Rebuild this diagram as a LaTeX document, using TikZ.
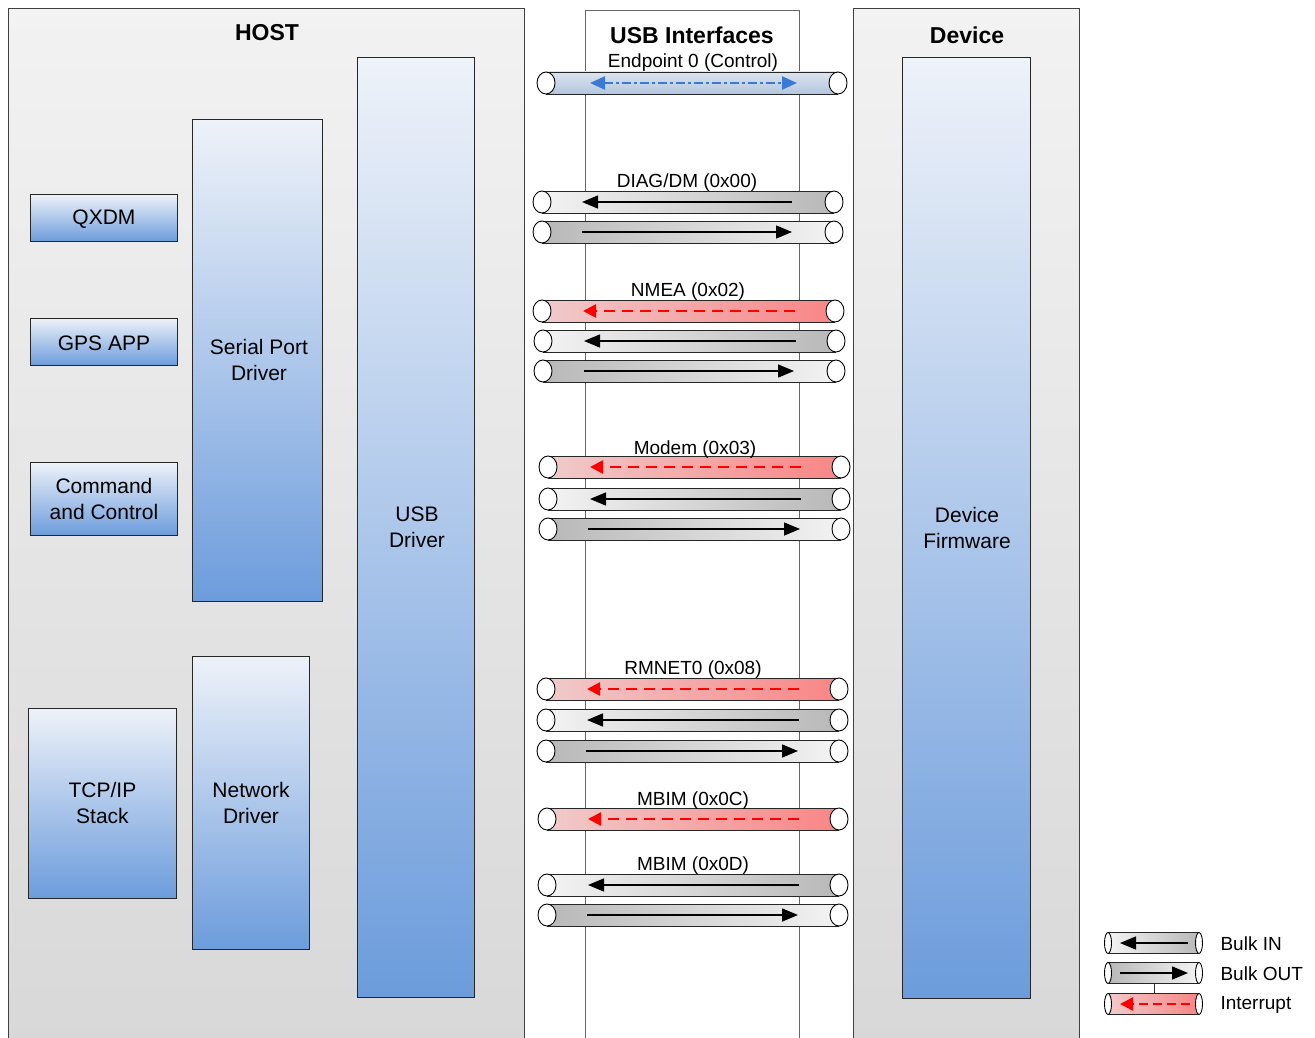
\documentclass[tikz,border=0pt]{standalone}
\usepackage{fontspec}
\setmainfont{Liberation Sans}
\usetikzlibrary{arrows.meta}
\definecolor{boxtop}{HTML}{EEF2F9}
\definecolor{boxbot}{HTML}{6C9CDC}
\definecolor{pantop}{HTML}{F2F2F2}
\definecolor{panbot}{HTML}{D8D8D8}
\definecolor{pipelite}{HTML}{F3F3F3}
\definecolor{pipedark}{HTML}{B8B8B8}
\definecolor{redlite}{HTML}{F0CBCB}
\definecolor{reddark}{HTML}{F98585}
\definecolor{ctltop}{HTML}{DCE4EF}
\definecolor{ctlbot}{HTML}{B3C6DE}
\definecolor{ctlarrow}{HTML}{3A7AD4}
\definecolor{intred}{HTML}{FF0000}

\tikzset{
  panel/.style={draw=black!75, line width=0.9pt, top color=pantop, bottom color=panbot, anchor=north west, inner sep=0pt},
  ifpanel/.style={draw=black!60, line width=0.8pt, fill=white, anchor=north west, inner sep=0pt},
  title/.style={font=\bfseries\fontsize{23}{27}\selectfont},
  hbox/.style={draw=black!85, line width=0.9pt, top color=boxtop, bottom color=boxbot, anchor=north west, inner sep=0pt},
  boxtext/.style={font=\fontsize{21}{26}\selectfont, align=center},
  plabel/.style={font=\fontsize{19}{22}\selectfont},
  inpipe/.style={left color=pipelite, right color=pipedark},
  outpipe/.style={left color=pipedark, right color=pipelite},
  intpipe/.style={left color=redlite, right color=reddark},
  ctlpipe/.style={top color=ctltop, bottom color=ctlbot},
  pipeedge/.style={draw=black!85, line width=0.9pt},
  pipeend/.style={draw=black, line width=0.9pt, fill=white},
  bulkarrow/.style={draw=black, line width=1.5pt, -{Triangle[length=16pt,width=13pt]}},
  intarrow/.style={draw=intred, line width=2.4pt, dash pattern=on 11pt off 7pt, -{Triangle[length=13pt,width=13pt]}},
  ctlarr/.style={draw=ctlarrow, line width=2.4pt, dash pattern=on 9pt off 3pt on 3pt off 3pt,
     {Triangle[length=15pt,width=13pt]}-{Triangle[length=15pt,width=13pt]}},
}

% name, y, xl, xr, fill style, x radius, left offset, right offset, y radius
\newcommand{\usbpipe}[9]{%
  \path[#5] (#3,#2-#9) rectangle (#4,#2+#9);
  \draw[pipeedge] (#3,#2-#9) -- (#4,#2-#9) (#3,#2+#9) -- (#4,#2+#9);
  \draw[pipeend] (#3,#2) ellipse[x radius=#6pt, y radius=#9pt];
  \draw[pipeend] (#4,#2) ellipse[x radius=#6pt, y radius=#9pt];
  \coordinate (#1-l) at (#3+#7,#2);
  \coordinate (#1-r) at (#4-#8,#2);
}

\begin{document}
\begin{tikzpicture}[x=1pt,y=-1pt]
\useasboundingbox (0,0) rectangle (1315,1038);

% panels
\node[panel, minimum width=516pt, minimum height=1040pt] (host) at (8,8) {};
\node[ifpanel, minimum width=214pt, minimum height=1040pt] (usbif) at (585,10) {};
\node[panel, minimum width=226pt, minimum height=1040pt] (device) at (853,8) {};

\node[title] (hosttitle) at (267,33) {HOST};
\node[title] (iftitle) at (692,35) {USB Interfaces};
\node[title] (devtitle) at (967,35) {Device};
\node[plabel] (ep0label) at (693,63) {Endpoint 0 (Control)};

% host boxes
\node[hbox, minimum width=147pt, minimum height=47pt] (qxdm) at (30,194) {};
\node[boxtext] at ([yshift=-1pt]qxdm.center) {QXDM};
\node[hbox, minimum width=147pt, minimum height=47pt] (gps) at (30,318) {};
\node[boxtext] at ([yshift=-1pt]gps.center) {GPS APP};
\node[hbox, minimum width=147pt, minimum height=73pt] (cmd) at (30,462) {};
\node[boxtext] at (cmd.center) {Command\\and Control};
\node[hbox, minimum width=130pt, minimum height=482pt] (serial) at (192,119) {};
\node[boxtext] at (259,360) {Serial Port\\Driver};
\node[hbox, minimum width=148pt, minimum height=190pt] (tcp) at (28,708) {};
\node[boxtext] at (tcp.center) {TCP/IP\\Stack};
\node[hbox, minimum width=117pt, minimum height=293pt] (net) at (192,656) {};
\node[boxtext] at (251,803) {Network\\Driver};
\node[hbox, minimum width=117pt, minimum height=940pt] (usbdrv) at (357,57) {};
\node[boxtext] at (417,527) {USB\\Driver};
\node[hbox, minimum width=128pt, minimum height=941pt] (fw) at (902,57) {};
\node[boxtext] at (967,528) {Device\\Firmware};

% pipes
\usbpipe{ep0}{83}{546}{838}{ctlpipe}{9}{44}{41}{11}
\draw[ctlarr] (ep0-l) -- (ep0-r);

\usbpipe{diagin}{202}{542}{834}{inpipe}{9}{40}{42}{11}
\usbpipe{diagout}{232}{542}{834}{outpipe}{9}{40}{42}{11}
\draw[bulkarrow] (diagin-r) -- (diagin-l);
\draw[bulkarrow] (diagout-l) -- (diagout-r);

\usbpipe{nmeaint}{311}{542}{835}{intpipe}{9}{41}{40}{11}
\usbpipe{nmeain}{341}{543}{836}{inpipe}{9}{41}{40}{11}
\usbpipe{nmeaout}{371}{543}{836}{outpipe}{9}{41}{42}{11}
\draw[intarrow] (nmeaint-r) -- (nmeaint-l);
\draw[bulkarrow] (nmeain-r) -- (nmeain-l);
\draw[bulkarrow] (nmeaout-l) -- (nmeaout-r);

\usbpipe{modint}{467}{548}{841}{intpipe}{9}{42}{40}{11}
\usbpipe{modin}{499}{548}{841}{inpipe}{9}{42}{40}{11}
\usbpipe{modout}{529}{548}{841}{outpipe}{9}{40}{41}{11}
\draw[intarrow] (modint-r) -- (modint-l);
\draw[bulkarrow] (modin-r) -- (modin-l);
\draw[bulkarrow] (modout-l) -- (modout-r);

\usbpipe{rmint}{689}{546}{839}{intpipe}{9}{41}{40}{11}
\usbpipe{rmin}{720}{546}{839}{inpipe}{9}{41}{40}{11}
\usbpipe{rmout}{751}{546}{839}{outpipe}{9}{40}{41}{11}
\draw[intarrow] (rmint-r) -- (rmint-l);
\draw[bulkarrow] (rmin-r) -- (rmin-l);
\draw[bulkarrow] (rmout-l) -- (rmout-r);

\usbpipe{mbcint}{819}{547}{839}{intpipe}{9}{41}{40}{11}
\draw[intarrow] (mbcint-r) -- (mbcint-l);

\usbpipe{mbdin}{885}{547}{839}{inpipe}{9}{41}{40}{11}
\usbpipe{mbdout}{915}{547}{839}{outpipe}{9}{40}{41}{11}
\draw[bulkarrow] (mbdin-r) -- (mbdin-l);
\draw[bulkarrow] (mbdout-l) -- (mbdout-r);

% pipe labels
\node[plabel] (l00) at (687,183) {DIAG/DM (0x00)};
\node[plabel] (l02) at (688,292) {NMEA (0x02)};
\node[plabel] (l03) at (695,450) {Modem (0x03)};
\node[plabel] (l08) at (693,670) {RMNET0 (0x08)};
\node[plabel] (l0c) at (693,801) {MBIM (0x0C)};
\node[plabel] (l0d) at (693,866) {MBIM (0x0D)};

% legend
\usbpipe{legin}{943}{1108}{1199}{inpipe}{3.5}{12}{11}{10.5}
\usbpipe{legout}{973}{1108}{1199}{outpipe}{3.5}{12}{11}{10.5}
\usbpipe{legint}{1004}{1108}{1199}{intpipe}{3.5}{12}{9}{10.5}
\draw[bulkarrow] (legin-r) -- (legin-l);
\draw[bulkarrow] (legout-l) -- (legout-r);
\draw[intarrow, dash pattern=on 9pt off 5pt] (legint-r) -- (legint-l);
\draw[black!80, line width=0.8pt] (legout-r |- 0,984) ++(-34,0) coordinate (tk1) -- ++(0,9) coordinate (tk2);
\node[plabel, anchor=west] (lin) at (1217,944) {Bulk IN};
\node[plabel, anchor=west] (lout) at (1217,974) {Bulk OUT};
\node[plabel, anchor=west] (lint) at (1217,1005) {Interrupt};
\end{tikzpicture}
\end{document}
